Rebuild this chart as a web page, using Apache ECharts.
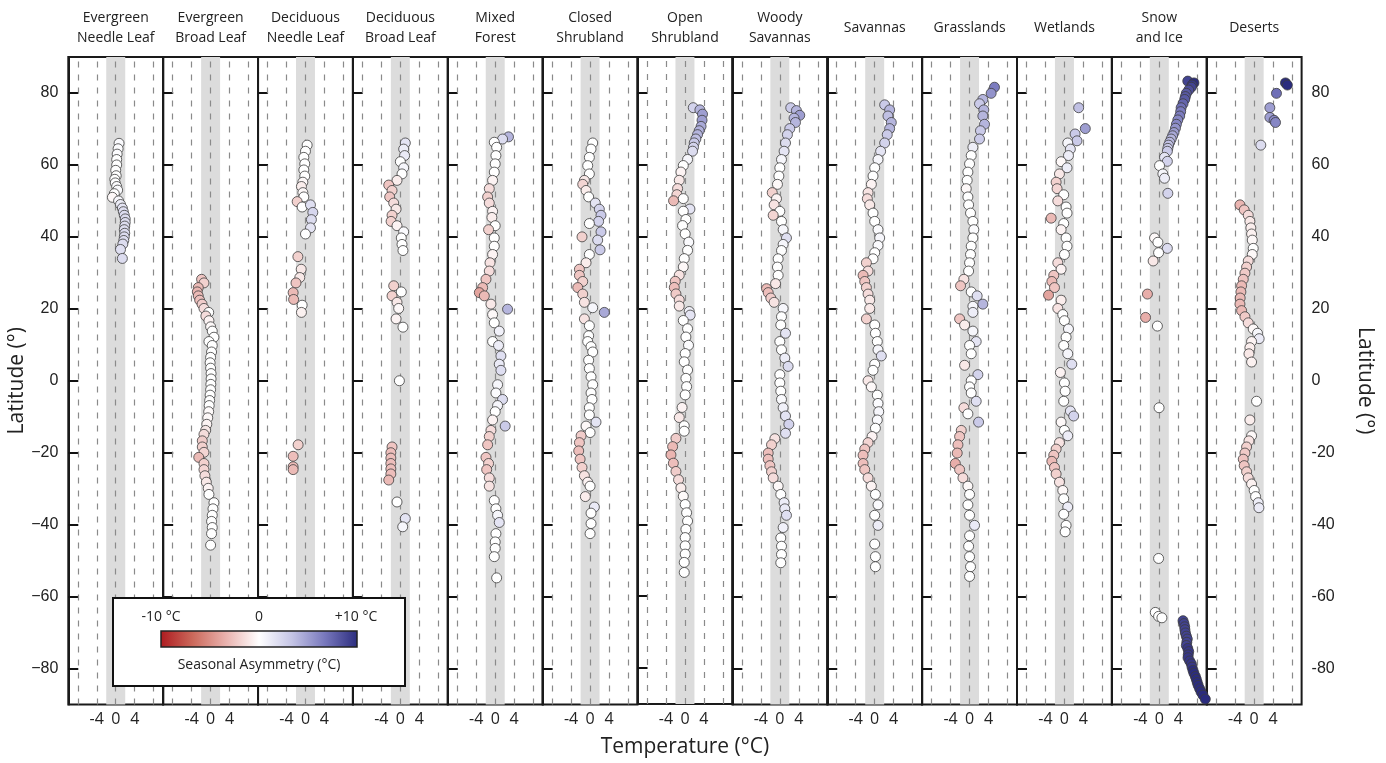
<!DOCTYPE html>
<html><head><meta charset="utf-8">
<script src="https://cdn.jsdelivr.net/npm/echarts@6/dist/echarts.min.js"></script>
<style>html,body{margin:0;padding:0;background:#fff}#c{width:1386px;height:763px}</style>
</head><body><div id="c"></div>
<script>
// Panel titles (biomes)
const biomes = ['Evergreen\nNeedle Leaf','Evergreen\nBroad Leaf','Deciduous\nNeedle Leaf','Deciduous\nBroad Leaf','Mixed\nForest','Closed\nShrubland','Open\nShrubland','Woody\nSavannas','Savannas','Grasslands','Wetlands','Snow\nand Ice','Deserts'];
const xTickLabels = [-4, 0, 4];
const latTicks = [-80, -60, -40, -20, 0, 20, 40, 60, 80];
const asymColors = ['#ad1a1f','#cc6a5c','#e9b2ae','#ffffff','#c4c4e5','#7878bd','#2b2c7e'];

// each point: [latitude, temperature, seasonal asymmetry]
const evergreenNeedle = [[66,0.7,0.3],[64.5,0.5,0.2],[63,0.3,0.2],[61.5,0.2,0],[60,0.2,0],[58.5,0,0],[57,0.1,0],[56,-0.2,0],[55,-0.1,0.1],[54,0.2,0.2],[53,0.4,0.3],[52,-0.3,0],[51,-0.7,-0.3],[50,0.6,0.5],[49,1.0,1.0],[48,1.4,1.5],[47,1.6,1.8],[46,1.8,2],[45,2.0,2],[44,2.0,2],[43,1.9,2],[42,1.8,2],[41,1.9,2],[40,1.8,2],[39,1.7,2],[38,1.5,2],[36.5,1.0,1.8],[34,1.4,2]];
const evergreenBroad = [[28.2,-1.9,-2.5],[27.2,-1.4,-2],[25.9,-2.6,-3],[24.7,-2.8,-3.2],[23.6,-2.6,-3],[22.4,-2.3,-2.8],[21.3,-1.8,-2.2],[20.1,-1.4,-1.5],[19,-0.4,0],[18,-1.0,-1.5],[16.7,-0.35,-0.5],[15,0,-0.3],[13.8,0.35,0],[12.1,0.7,0],[10.9,-0.35,0],[9.8,0.35,0],[8,0.2,0],[6.5,0,0],[5,-0.1,0],[3.5,0,0],[2,0.1,0],[0.5,0.1,0],[-1,0.05,0],[-2.5,0,0],[-4,-0.1,0],[-5.5,-0.2,0],[-6.9,-0.3,0],[-8.6,-0.4,-0.2],[-10.3,-0.6,-0.3],[-12.1,-0.8,-0.5],[-13.8,-1.05,-1],[-14.9,-1.4,-1.5],[-16.7,-1.75,-2.2],[-18.4,-1.75,-2],[-19.9,-1.4,-1.8],[-21.3,-2.5,-3],[-23,-1.4,-2],[-24.7,-1.4,-1.8],[-26.4,-1.2,-1.5],[-28.2,-0.9,-1],[-29.9,-0.5,-0.5],[-31.6,-0.35,0],[-33.9,0.7,0],[-35.6,0.5,0],[-37.4,0.35,0],[-39.1,0.2,0],[-40.8,0.35,0],[-42.5,0.2,0],[-45.7,0,0]];
const deciduousNeedle = [[65.5,0.35,0],[63.8,0,0],[62.1,-0.35,0],[60.3,-0.15,0],[58.6,-0.35,0],[56.9,-0.15,0],[55.2,-0.55,-0.3],[54,-0.85,-0.8],[52.3,-0.55,-0.3],[51.1,-0.35,0],[49.8,-1.75,-2],[48.3,-0.7,0],[48.9,1.05,1.8],[46.8,1.55,2.3],[44.8,1.25,2],[42.5,1.05,1.5],[40.8,0,0],[34.5,-1.6,-2],[31,-0.9,-1],[28.7,-1.2,-1],[27.2,-2.0,-2.5],[24.5,-2.6,-3],[22.6,-2.5,-3],[21,-0.7,0],[19,-0.85,-0.6],[-17.8,-1.55,-2],[-21,-2.6,-2.8],[-23.9,-2.6,-3],[-24.7,-2.6,-3]];
const deciduousBroad = [[66.1,1.05,1.5],[64.4,0.7,1],[62.6,0.9,1.2],[60.9,0,0],[59.2,0.7,0.5],[57.5,0.35,0],[55.7,-0.7,-0.8],[54.4,-2.45,-2.5],[52.9,-1.75,-2],[51.1,-2.25,-2.5],[49.4,-1.4,-1.5],[47.7,-0.9,-1],[46,-1.75,-2],[44.3,-1.95,-2],[43.1,-0.7,-0.5],[41.4,0.7,0.3],[39.7,0.2,0],[37.9,0.35,0],[36.2,0.55,0],[26.4,-1.4,-2],[24.7,0.2,0],[23.6,-1.75,-2],[21.8,-0.7,-1],[20.1,-0.35,-0.3],[17.2,-0.9,-0.5],[14.9,0.55,0],[0,-0.2,0],[-18.4,-1.75,-2.5],[-20,-2,-2.8],[-21.5,-2,-2.8],[-23,-2,-2.8],[-24.5,-2,-2.8],[-25.9,-2,-2.8],[-27.6,-2.45,-3],[-33.7,-0.7,0],[-38.3,1.05,1.5],[-40.6,0.5,0.5]];
const mixedForest = [[67.8,2.8,4],[67.2,1.55,2],[66.3,-0.2,0],[64.9,0.3,0],[62.6,0.15,0],[60.3,0,0],[58,-0.2,0],[55.7,-0.55,-0.5],[53.4,-1.25,-1.5],[51.1,-1.6,-2],[49.4,-1.25,-1.5],[47.1,-0.55,-0.5],[45.4,-0.7,-0.8],[43.1,0,0],[42,-1.4,-2],[39.7,-0.2,0],[37.4,-0.2,0],[35.1,-0.55,-0.5],[32.8,-1.1,-1.2],[30.5,-1.25,-1.5],[28.2,-1.95,-2.5],[25.9,-2.65,-3],[24.5,-3.35,-4],[23.6,-2.3,-3],[21.3,-0.9,-1],[19.9,2.6,4],[18.4,-0.55,-0.3],[16.1,-0.2,0],[13.8,0.85,0.8],[10.9,-0.55,0],[9.8,0.7,1],[6.9,1.2,1.8],[4.6,0.85,1.2],[2.9,1.2,1.8],[-1.1,0.5,0.5],[-3.4,0.15,0.3],[-5.2,1.55,2],[-6.9,0.5,0.5],[-8.6,0,0],[-10.9,-0.55,-0.5],[-12.6,2.1,3],[-13.8,-0.9,-1.5],[-15.5,-1.25,-2],[-17.8,-1.6,-2.5],[-21.3,-1.95,-2.5],[-23,-1.4,-2],[-24.7,-1.8,-2.5],[-27,-1.25,-1.5],[-29.3,-1.25,-1.2],[-33.3,-0.2,0],[-35.6,0.15,0],[-37.4,0.5,0.5],[-39.4,0.85,1.5],[-42.5,0.15,0],[-44.8,0,0],[-46.6,0,0],[-48.9,-0.2,0],[-54.8,0.3,0]];
const closedShrubland = [[66.1,0.55,0],[64.4,0.2,0],[62.1,-0.15,0],[59.8,-0.5,0],[57.5,-0.15,0],[55.7,-1.2,-1],[54.6,-1.55,-1.8],[52.9,-0.85,-0.8],[51.1,-0.3,0],[49.4,1.1,1.5],[47.7,1.95,2.5],[46,2.3,3],[44.3,1.8,2.5],[43.7,-0.15,0],[41.4,2.3,3],[40,-1.7,-2],[39.1,1.6,2],[36.4,2.1,3],[35.1,-0.15,0],[32.8,-0.85,-0.8],[31,-2.25,-2.5],[29.3,-2.25,-2.5],[27.6,-1.55,-2],[25.9,-2.6,-3],[24.1,-1.55,-2],[21.8,-1.2,-1.2],[20.3,0.55,0.5],[19,3.0,4.5],[17.2,-1.2,-1.2],[15.3,-0.15,0],[12.5,-0.3,0],[10.9,-0.5,0],[9.5,0.2,0],[8,0.55,0],[5.7,-0.3,0],[3.4,-0.15,0],[1.1,0.2,0],[-1.1,0.55,0],[-3.4,0.2,0],[-5.2,0.4,0],[-7.5,-0.15,0],[-9.5,-0.15,0],[-11.5,1.25,1.5],[-12.6,-0.85,-0.3],[-14.4,0,0],[-15.3,-1.9,-2.2],[-17.2,-2.25,-2.5],[-19.5,-2.4,-2.8],[-21.8,-2.1,-2.5],[-24.1,-1.7,-2],[-26.4,-1.2,-1.2],[-28.2,-0.5,-0.5],[-29.3,0,0],[-32.2,-1.0,-0.8],[-35.1,0.9,1.2],[-36.8,0.2,0],[-39.7,0.2,0],[-42.5,0,0]];
const openShrubland = [[75.9,1.75,2.5],[75.3,3.15,4],[74.1,3.7,5],[72.4,3.6,5],[70.7,3.4,4.5],[69.5,3.0,4.2],[68.4,2.65,4],[67.2,2.3,3.5],[66.1,1.95,3],[64.9,1.8,2.5],[63.8,1.6,2],[61.5,0.55,0.5],[59.8,-0.35,0],[58,-0.85,-0.5],[55.7,-1.2,-1],[53.4,-1.55,-1.5],[51.7,-1.7,-1.8],[50,-2.4,-3],[50.6,-0.35,0],[47.7,1.05,1.5],[47.1,-0.35,0],[44.8,0.2,0],[43.1,-0.5,0],[40.8,0.05,0],[38.5,0.8,0.3],[36.2,0.55,0],[33.9,-0.15,0],[31.6,-0.35,-0.3],[29.3,-1.2,-1.2],[27.6,-2.05,-2.5],[25.9,-2.25,-2.8],[24.1,-1.9,-2.3],[22.4,-1.2,-1.5],[20.7,-1.2,-1],[19.2,0.9,0.8],[18.2,1.1,1.5],[16.7,-0.35,0],[14.4,0.55,0],[12.1,0.2,0],[9.8,0.75,0.2],[7.5,0.05,0],[5.2,-0.15,0],[2.9,0.55,0],[0.6,0.2,0],[-1.7,0.35,0],[-4,0.05,0],[-7.5,-0.6,-0.5],[-10.3,-1.2,-1],[-12.6,-0.15,0],[-14.1,-0.15,0],[-16.1,-1.9,-2.2],[-18.4,-2.6,-3],[-20.7,-2.95,-3.2],[-23,-2.45,-2.8],[-25.3,-1.9,-2.2],[-27.6,-1.35,-1.5],[-29.9,-0.85,-0.8],[-32.2,-0.35,-0.2],[-34.5,0.05,0],[-36.8,0.35,0],[-39.1,0.55,0],[-41.4,0.2,0],[-43.7,0.05,0],[-46,0.05,0],[-48.3,0.05,0],[-50.6,-0.15,0],[-53.4,-0.15,0]];
const woodySavannas = [[75.9,2.3,3],[75.1,3.5,4],[73.8,4.2,5],[73,3.0,4],[71.8,3.3,4],[70.1,2.1,3],[68.4,1.6,2.5],[66.1,1.2,2],[63.8,0.9,1.5],[61.5,0.35,0.5],[59.2,0,0],[56.9,-0.2,0],[54.6,-0.5,-0.3],[52.3,-1.6,-2],[50.6,-0.7,-0.5],[48.9,-1.2,-1.2],[47.1,0,0],[46,-1.4,-1.8],[44.3,0.35,0],[42,0.7,0.5],[39.7,1.4,1.8],[37.9,0.7,0.5],[36.2,0.35,0],[33.9,-0.35,0],[31.6,-0.5,0],[29.3,-0.35,0],[27,-0.9,-1],[25.6,-2.8,-3],[24.5,-2.45,-2.8],[23,-1.9,-2.2],[21.8,-1.2,-1.2],[20.1,0.7,0.5],[17.8,0.35,0],[15.5,0.2,0],[13.2,1.2,1.5],[10.9,0,0],[8.6,0.35,0],[6.3,1.05,1],[4,1.75,2],[1.7,0,0],[-0.6,0,0],[-2.9,0.2,0],[-5.2,0.35,0.3],[-7.5,0.7,0.8],[-9.8,1.2,1.5],[-12.1,1.9,2.5],[-14.6,1.2,1.8],[-16.1,-1.05,-1.2],[-17.8,-1.75,-2],[-20.1,-2.45,-2.8],[-21.8,-2.45,-2.8],[-23.6,-2.1,-2.5],[-25.3,-1.75,-2],[-27,-1.4,-1.5],[-29.3,-0.35,-0.3],[-31.6,0.2,0],[-33.9,0.9,1],[-35.6,1.05,1.2],[-37.4,1.4,1.8],[-40.8,0.7,0.8],[-43.7,0.2,0],[-46,0.35,0],[-48.3,0.35,0],[-50.6,0.2,0]];
const savannas = [[76.7,2.1,3],[75.3,3.15,4],[73.6,2.8,3.5],[71.8,3.5,4],[70.1,3.15,4],[68.4,2.65,3],[66.1,2.1,2.5],[63.8,1.25,1.5],[61.5,0.7,0.5],[59.2,0,0],[56.9,-0.35,0],[54.6,-0.7,-0.5],[52.3,-1.4,-1.2],[50.6,-1.55,-1.5],[48.9,-1.05,-1],[46.6,-0.35,0],[44.3,0,0],[42,0.7,0.3],[39.7,1.05,0.5],[37.6,0.7,0.3],[35.6,0,0],[33.9,-0.35,0],[32.8,-1.75,-2],[30.5,-1.4,-1.5],[29.3,-2.45,-3],[27.6,-2.1,-2.5],[25.9,-1.75,-2],[24.1,-1.4,-1.5],[22.4,-1.05,-1],[20.1,-1.05,-1],[17.2,-1.75,-2],[15.5,0,0],[13.2,0.15,0],[10.9,0.55,0],[8.6,0.7,0.5],[6.9,1.4,1.8],[4.6,0,0],[2.9,-0.35,0],[0,-1.4,-1],[-1.7,-0.7,-0.3],[-4,0.55,0],[-6.3,0.7,0.3],[-8.6,0.85,0.5],[-10.9,0.55,0.3],[-13.2,0.15,0],[-15.5,-0.55,-0.5],[-17.2,-1.4,-1.8],[-19,-2.1,-2.5],[-20.7,-2.45,-2.8],[-23,-2.45,-2.8],[-24.7,-2.1,-2.5],[-27,-1.4,-1.5],[-29.3,-0.7,-0.5],[-31.6,0.15,0],[-34.5,0.7,0.3],[-37.4,0,0],[-40.2,0.7,1],[-45.4,0,0],[-48.9,0.15,0],[-51.7,0.15,0]];
const grasslands = [[81.6,5.25,6.5],[79.9,4.55,5.5],[78.2,2.8,4],[77,2.1,3],[75.3,3.0,4],[73.6,2.8,4],[71.3,3.15,4],[69.5,2.3,3],[67.2,2.1,3],[64.9,0.7,1],[62.6,0.35,0],[60.3,0,0],[58,-0.35,0],[55.7,-0.5,0],[53.4,-0.7,-0.3],[51.1,-0.35,0],[48.9,-0.2,0],[46.6,0.2,0],[44.3,0.7,0],[42,0.9,0.2],[39.7,0.7,0],[37.4,0.35,0],[35.1,0.2,0],[32.8,0,0],[30.5,-0.2,0],[28.2,-1.2,-1.2],[26.4,-1.9,-2.5],[24.7,0.35,0],[23.6,1.6,1.8],[21.3,2.8,4],[20.7,0.7,0.5],[19,0.7,1],[17.2,-2.1,-2.5],[15.5,-1.05,-0.8],[13.8,0.7,0.5],[10.9,1.4,1.5],[9.8,0,0],[7.5,0.35,0],[4.3,-1.05,-1],[1.7,1.75,2.5],[0,0.35,0],[-1.7,0,0],[-3.4,0.35,0],[-5.7,1.4,1.8],[-7.5,-1.2,-1.5],[-9.2,-0.35,0],[-11.5,1.9,3],[-13.8,-1.75,-2],[-15.5,-2.1,-2.5],[-17.8,-2.45,-2.8],[-20.1,-2.6,-3],[-23,-3.0,-3.5],[-24.7,-2.1,-2.5],[-27,-1.4,-1.5],[-29.3,-0.35,-0.3],[-31.6,0,0],[-34.5,-0.35,0],[-37.4,0,0],[-40.2,1.05,1.2],[-43.1,0,0],[-46,-0.2,0],[-48.9,0,0],[-51.7,0.2,0],[-54.4,0,0]];
const wetlands = [[75.9,3.0,3.5],[70.1,4.4,5],[68.6,2.25,3],[66.7,2.65,3],[66.1,0.7,0.5],[64.4,1.25,1.5],[62.6,0.85,1],[60.9,-0.7,-0.3],[59.2,0.55,1],[57.5,-1.05,-1],[55.2,-1.75,-2],[53.4,-1.55,-1.8],[51.7,-0.15,0],[50,-1.4,-1.5],[48.3,0.35,0],[46.6,0.55,0],[45.2,-2.8,-3],[43.7,-0.15,0],[42,-0.7,-0.5],[39.7,0.35,0],[37.4,0.55,0],[35.1,0,0],[32.8,-1.4,-1.5],[31,-0.7,-0.5],[29.3,-2.25,-2.5],[27.6,-2.65,-3],[25.9,-2.1,-2.5],[23.8,-3.35,-4],[22.4,-0.7,-0.8],[20.1,-1.4,-1.2],[18.4,-0.35,0],[16.7,0,0],[14.4,0.85,0.5],[12.1,0.35,0],[9.8,-0.15,0],[7.5,0.7,0.5],[4.6,1.55,1.8],[2.3,-0.85,-0.5],[-0.6,0,0],[-2.9,0.15,0],[-5.7,-0.15,0],[-8.4,1.25,1.5],[-9.8,1.95,2.5],[-11.5,-0.7,-0.3],[-13.8,0,0],[-15.3,0.7,1],[-17.2,-1.05,-1.2],[-19,-1.75,-2],[-20.7,-2.25,-2.5],[-22.4,-2.65,-3],[-24.1,-2.1,-2.5],[-25.9,-1.75,-2],[-28.2,-1.05,-1.2],[-30.5,-0.35,-0.3],[-32.8,-0.15,0],[-35.1,0.7,1],[-37.1,-0.15,0],[-40.2,0.35,0],[-42,0.15,0]];
const snowAndIce = [[83.3,6.0,9],[82.8,7.3,10],[82.2,6.9,9.5],[81.6,6.75,9],[80.8,6.2,8.5],[79.9,5.7,8],[79,5.5,8],[78.2,5.35,8],[77,5.0,7.5],[75.9,4.6,7],[74.8,4.5,6.5],[73.6,4.3,6.5],[72.5,3.9,6],[71.3,3.6,6],[70.2,3.4,5.5],[69,3.1,5],[68.1,2.8,4.5],[67.2,2.5,4],[66.3,2.2,3.8],[65.5,1.95,3.5],[64.6,1.8,3],[63.8,1.7,3],[62.1,1.1,1.5],[61,1.7,2.5],[59.8,0.05,0],[57.5,0.75,0.5],[56.3,1.1,1],[52.1,1.8,2.5],[39.7,-1.0,-0.3],[38.5,-0.3,0],[36.8,1.7,2],[35.6,-0.15,0],[33.3,-1.3,-1],[24.1,-2.5,-3.5],[17.6,-2.9,-3.5],[15.2,-0.4,0],[-7.5,-0.05,0],[-49.4,-0.15,0],[-64.4,-0.85,0],[-65.5,-0.15,0],[-65.9,0.55,0],[-66.7,5.0,9],[-67.5,5.2,9],[-68.4,5.35,9],[-69.2,5.4,9],[-70.1,5.5,9],[-71,5.7,9],[-71.8,5.9,9],[-72.7,5.8,9],[-73.6,5.7,9],[-74.4,6.0,9.5],[-75.3,6.2,9.5],[-76.2,6.1,9.5],[-77,6.05,9.5],[-77.9,6.4,9.5],[-78.7,6.75,9.5],[-79.6,6.9,9.5],[-80.5,7.1,10],[-81.3,7.3,10],[-82.2,7.6,10],[-83,7.8,10],[-83.9,8.0,10],[-84.7,8.2,10],[-85.6,8.5,10],[-86.5,8.8,10],[-87.4,9.2,10],[-88.5,9.7,10]];
const deserts = [[82.8,6.6,10],[82.2,7.0,10],[79.9,4.7,7],[75.9,3.3,5],[73.2,3.3,5],[72.4,4.2,6],[71.8,4.5,6],[65.5,1.4,2],[48.9,-3.0,-3.2],[47.5,-2.1,-2.5],[46,-1.25,-1.5],[44.3,-0.9,-1],[42.5,-0.7,-0.8],[40.8,-0.55,-0.6],[39.1,-0.4,-0.3],[36.8,-0.2,0],[35.1,-0.4,-0.3],[33.3,-1.25,-1.5],[31.6,-1.6,-2],[29.9,-1.95,-2.3],[28.2,-2.3,-2.6],[26.4,-2.65,-3],[24.7,-2.8,-3],[23,-2.95,-3],[21.3,-3.0,-3],[19.5,-2.65,-3],[17.8,-1.95,-2.3],[16.1,-1.25,-1.5],[14.4,-0.2,-0.3],[13.2,0.7,0.5],[11.7,1.05,1.2],[10.9,-0.55,-0.5],[9.2,-0.9,-0.8],[7.5,-1.1,-1],[5.2,-0.55,-0.6],[-5.7,0.5,0],[-10.9,-0.9,-0.8],[-15.3,-0.55,-0.3],[-16.7,-1.1,-1.2],[-18.4,-1.6,-2],[-20.1,-1.95,-2.3],[-21.8,-2.3,-2.6],[-23.6,-2.1,-2.5],[-25.3,-1.6,-2],[-27,-1.25,-1.5],[-28.7,-0.55,-0.6],[-30.5,0,0],[-32.2,0.3,0],[-33.9,0.85,1],[-35.3,1.0,1.2]];

const panelData = [evergreenNeedle, evergreenBroad, deciduousNeedle, deciduousBroad, mixedForest, closedShrubland, openShrubland, woodySavannas, savannas, grasslands, wetlands, snowAndIce, deserts];

const GL = 68.3, GW = 94.87, GT = 57, GH = 647.5;
const grid = [], xAxis = [], yAxis = [], series = [], graphic = [];
const textColor = '#222';

panelData.forEach((pts, i) => {
  grid.push({left: GL + i * GW, top: GT, width: GW, height: GH, show: true, borderColor: '#1a1a1a', borderWidth: 2, backgroundColor: 'transparent'});
  const xa = {gridIndex: i, type: 'value', min: -10, max: 10, interval: 2,
    axisLine: {show: false, onZero: false}, axisTick: {show: false}, splitLine: {show: false},
    axisLabel: {show: true, margin: 7, fontSize: 16, color: textColor, fontFamily: 'Open Sans',
      formatter: v => xTickLabels.includes(v) ? String(v) : ''}};
  if (i === 6) Object.assign(xa, {name: 'Temperature (°C)', nameLocation: 'middle', nameGap: 33,
    nameTextStyle: {fontSize: 21, color: textColor, fontFamily: 'Open Sans'}});
  xAxis.push(xa);
  const ya = {gridIndex: i, type: 'value', position: 'left', min: -90, max: 90, interval: 10,
    axisLine: {show: true, onZero: false, lineStyle: {color: '#1a1a1a', width: 2}}, splitLine: {show: false},
    axisTick: {show: true, inside: true, length: 10, customValues: latTicks, lineStyle: {color: '#111', width: 2}},
    axisLabel: {show: i === 0, customValues: latTicks, margin: 10, fontSize: 16, color: textColor, fontFamily: 'Liberation Sans',
      formatter: v => String(v).replace('-', '\u2212')}};
  if (i === 0) Object.assign(ya, {name: 'Latitude (°)', nameLocation: 'middle', nameGap: 29, nameRotate: 90,
    nameTextStyle: {fontSize: 21, color: textColor, fontFamily: 'Open Sans'}});
  yAxis.push(ya);
  series.push({
    type: 'scatter', xAxisIndex: i, yAxisIndex: i, z: 3, clip: false,
    symbolSize: 10,
    itemStyle: {borderColor: '#3c3c3c', borderWidth: 0.8, opacity: 1},
    data: pts.map(p => [p[1], p[0], p[2]]),
    markArea: {silent: true, z: 1, itemStyle: {color: '#dcdcdc'}, data: [[{xAxis: -2}, {xAxis: 2}]]},
    markLine: {silent: true, z: 2, symbol: 'none', label: {show: false}, animation: false,
      lineStyle: {color: '#8a8a8a', width: 1.2, type: [6, 7]},
      emphasis: {disabled: true},
      data: [-8, -4, 0, 4, 8].map(v => ({xAxis: v}))}
  });
  graphic.push({type: 'text', x: GL + (i + 0.5) * GW, y: 28, z: 100,
    style: {text: biomes[i], align: 'center', verticalAlign: 'middle', fontSize: 14, lineHeight: 20, fill: textColor, fontFamily: 'Open Sans'}});
});
// right-hand latitude axis
yAxis.push({gridIndex: 12, type: 'value', position: 'right', min: -90, max: 90, interval: 10,
  axisLine: {show: false, onZero: false}, splitLine: {show: false}, axisTick: {show: false},
  axisLabel: {show: true, customValues: latTicks, margin: 10, fontSize: 16, color: textColor, fontFamily: 'Liberation Sans'},
  name: 'Latitude (°)', nameLocation: 'middle', nameGap: 53, nameRotate: -90,
  nameTextStyle: {fontSize: 21, color: textColor, fontFamily: 'Open Sans'}});

// legend box for colour scale
const stops = asymColors.map((c, k) => ({offset: k / (asymColors.length - 1), color: c}));
graphic.push(
  {type: 'rect', z: 100, shape: {x: 113, y: 598, width: 292, height: 88}, style: {fill: '#fff', stroke: '#111', lineWidth: 2}},
  {type: 'rect', z: 101, shape: {x: 161, y: 631, width: 196, height: 16},
    style: {fill: new echarts.graphic.LinearGradient(0, 0, 1, 0, stops), stroke: '#222', lineWidth: 1.5}},
  {type: 'text', z: 101, x: 161, y: 617, style: {text: '-10 °C', align: 'center', verticalAlign: 'middle', fontSize: 14, fill: textColor, fontFamily: 'Open Sans'}},
  {type: 'text', z: 101, x: 259, y: 617, style: {text: '0', align: 'center', verticalAlign: 'middle', fontSize: 14, fill: textColor, fontFamily: 'Open Sans'}},
  {type: 'text', z: 101, x: 356, y: 617, style: {text: '+10 °C', align: 'center', verticalAlign: 'middle', fontSize: 14, fill: textColor, fontFamily: 'Open Sans'}},
  {type: 'text', z: 101, x: 259, y: 665, style: {text: 'Seasonal Asymmetry (°C)', align: 'center', verticalAlign: 'middle', fontSize: 14, fill: textColor, fontFamily: 'Open Sans'}}
);

const chart = echarts.init(document.getElementById('c'), null, {renderer: 'canvas'});
chart.setOption({
  animation: false,
  backgroundColor: '#fff',
  grid, xAxis, yAxis, series, graphic,
  visualMap: {show: false, type: 'continuous', min: -10, max: 10, dimension: 2,
    seriesIndex: series.map((s, k) => k), inRange: {color: asymColors}}
});
</script></body></html>
